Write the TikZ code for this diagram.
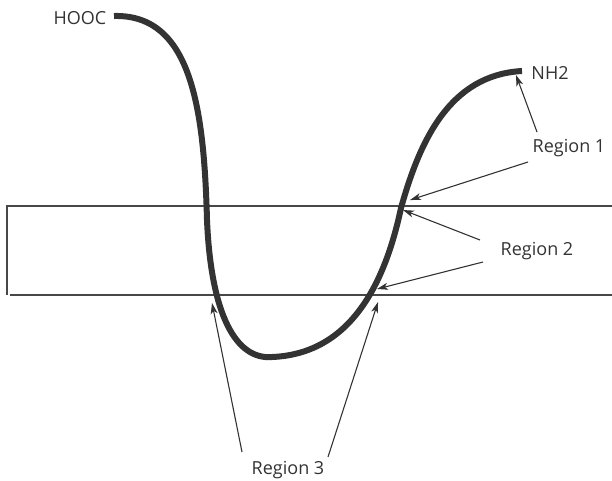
\documentclass[tikz,border=0pt]{standalone}
\usepackage{fontspec}
\setmainfont{Open Sans}
\usetikzlibrary{arrows.meta}
\definecolor{ink}{HTML}{333333}
\tikzset{
  lbl/.style={font=\fontsize{18}{21}\selectfont, text=ink, inner sep=0pt},
  memb/.style={draw=ink!90, line width=1.3pt},
  chain/.style={draw=ink, line width=6pt},
  ptr/.style={draw=ink, line width=1.1pt, -{Stealth[length=11pt,width=7pt,inset=3pt]}}
}
\begin{document}
\begin{tikzpicture}[x=1pt,y=-1pt]
\useasboundingbox (0,0) rectangle (612,480);
% membrane
\coordinate (mtl) at (7,206);
\coordinate (mtr) at (612,206);
\coordinate (mbl) at (7,295);
\coordinate (mbr) at (612,295);
\draw[memb] (mtr) -- (mtl) -- (mbl);
\draw[memb] (10,295) -- (mbr);
% chain
\coordinate (c0) at (114,16);
\coordinate (c1) at (207,220);
\coordinate (c2) at (272,357);
\coordinate (c3) at (401,208);
\coordinate (c4) at (522,71);
\draw[chain] (c0) .. controls (192,14) and (204,110) .. (c1)
  .. controls (211,315) and (236,360) .. (c2)
  .. controls (348,354) and (384,288) .. (c3)
  .. controls (420,140) and (450,75) .. (c4);
% labels
\node[lbl] (hooc) at (80,18) {HOOC};
\node[lbl] (nh2) at (550,73) {NH2};
\node[lbl] (r1) at (569,148) {Region 1};
\node[lbl] (r2) at (537,251) {Region 2};
\node[lbl] (r3) at (288,470) {Region 3};
% arrow targets
\coordinate (t1) at (516,75);
\coordinate (t2) at (410,200);
\coordinate (t3) at (403,210);
\coordinate (t4) at (377,289);
\coordinate (t5) at (212,303);
\coordinate (t6) at (378,302);
\draw[ptr] (537,132) -- (t1);
\draw[ptr] (528,162) -- (t2);
\draw[ptr] (480,240) -- (t3);
\draw[ptr] (483,262) -- (t4);
\draw[ptr] (242,452) -- (t5);
\draw[ptr] (328,457) -- (t6);
\end{tikzpicture}
\end{document}
